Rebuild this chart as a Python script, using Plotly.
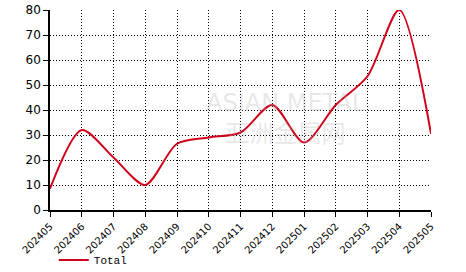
import plotly.graph_objects as go

months = ["202405","202406","202407","202408","202409","202410","202411",
          "202412","202501","202502","202503","202504","202505"]
total = [8.5, 32, 21, 10, 26.5, 29, 31, 42, 27, 42, 53.5, 80, 30.5]
y_ticks = [0, 10, 20, 30, 40, 50, 60, 70, 80]

fig = go.Figure()
fig.add_trace(go.Scatter(x=months, y=total, mode="lines", name="Total",
                         line=dict(color="#d0021b", width=2, shape="spline", smoothing=0.8)))

fig.add_annotation(text="ASIAN METAL<br>亚洲金属网", x=0.62, y=0.46, xref="paper", yref="paper",
                   showarrow=False,
                   font=dict(family="DejaVu Sans, Noto Sans CJK SC", size=24, color="rgba(175,175,175,0.3)"))

fig.update_layout(
    width=466, height=272,
    margin=dict(l=50, r=35, t=10, b=62, autoexpand=False),
    plot_bgcolor="white", paper_bgcolor="white",
    font=dict(family="DejaVu Sans", size=11, color="black"),
    showlegend=True,
    legend=dict(orientation="h", x=0.01, y=-0.25, xanchor="left", yanchor="middle",
                bgcolor="rgba(0,0,0,0)",
                font=dict(family="Liberation Mono", size=11, color="black")),
)
fig.update_xaxes(type="category", range=[0, 12], tickangle=-45, automargin=False,
                 showline=True, linecolor="black", linewidth=1.5,
                 ticks="outside", ticklen=5, tickcolor="black",
                 showgrid=True, gridcolor="black", griddash="1px,2px", gridwidth=1,
                 tickfont=dict(size=10))
fig.update_yaxes(range=[0, 80], tickvals=y_ticks, automargin=False,
                 showline=True, linecolor="black", linewidth=1.5,
                 ticks="outside", ticklen=5, tickcolor="black",
                 showgrid=True, gridcolor="black", griddash="1px,2px", gridwidth=1,
                 zeroline=False, tickfont=dict(size=12))

fig.write_html("out.html")
